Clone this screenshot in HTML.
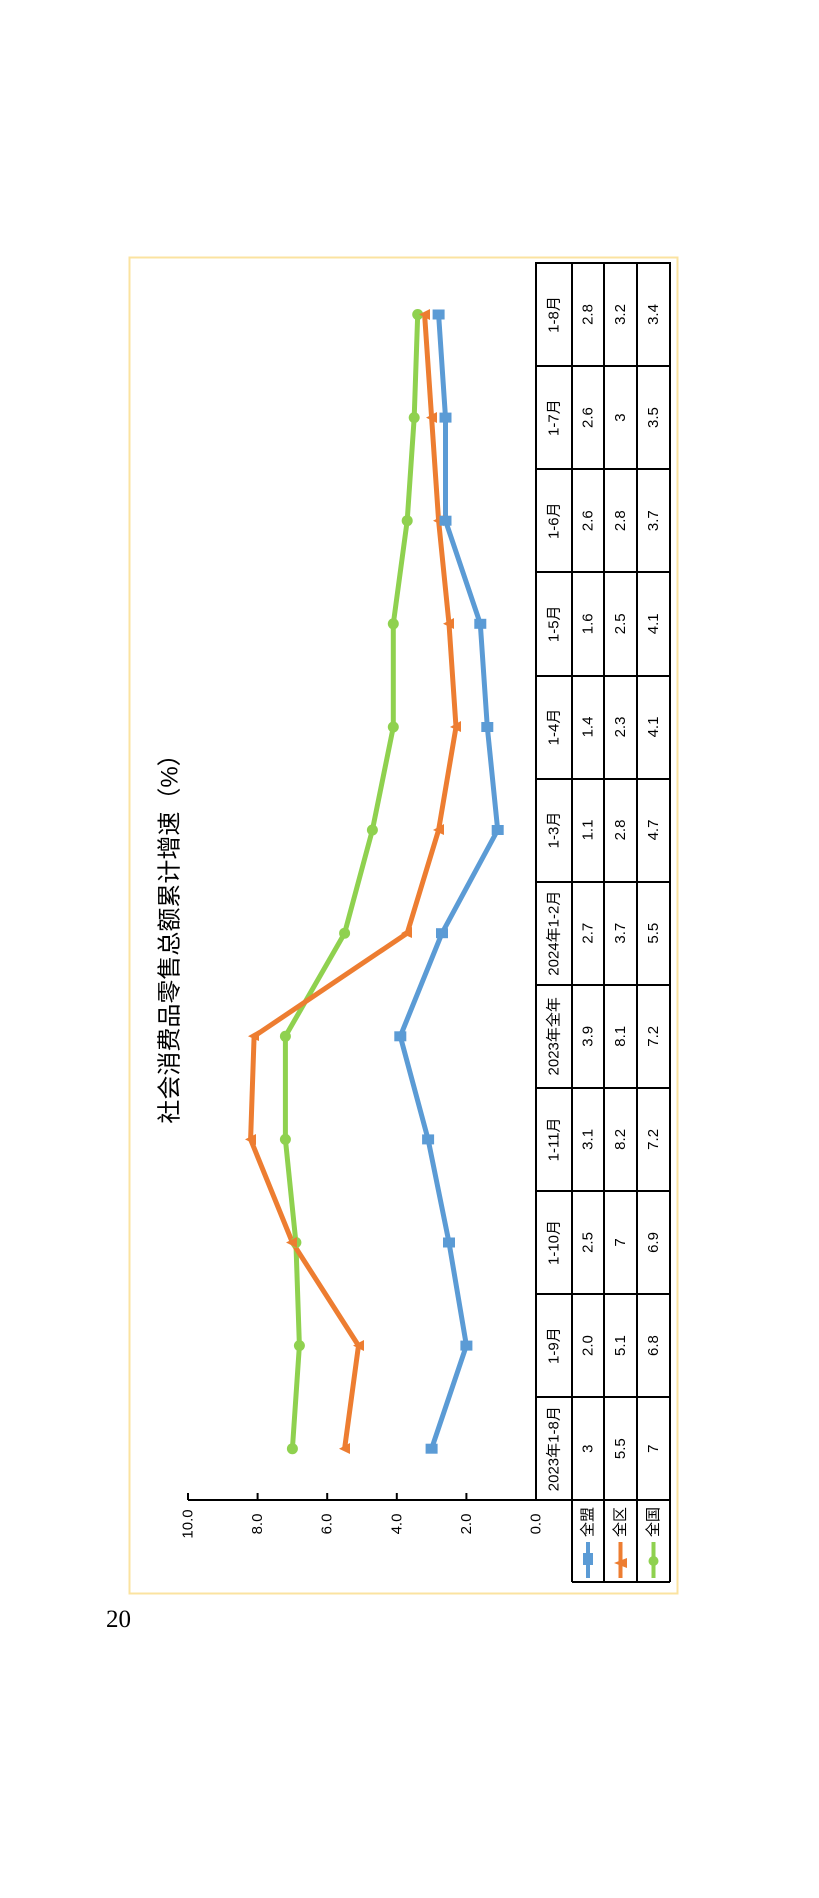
<!DOCTYPE html>
<html><head><meta charset="utf-8"><style>
html,body{margin:0;padding:0;background:#fff;}
svg{display:block;}
.t{font-family:"Liberation Sans Narrow","Liberation Sans","Noto Sans CJK SC",sans-serif;font-size:15px;fill:#000;}
.ti{font-family:"Liberation Sans","Noto Sans CJK SC",sans-serif;font-size:24px;fill:#000;}
</style></head><body>
<svg width="819" height="1898" xmlns="http://www.w3.org/2000/svg">
<rect x="129.5" y="257.5" width="548" height="1336" fill="#fff" stroke="#fbe3a0" stroke-width="2"/>
<text class="ti" transform="translate(170,933) rotate(-90)" text-anchor="middle" dominant-baseline="central">社会消费品零售总额累计增速（%）</text>
<!-- axis -->
<g stroke="#000" stroke-width="2">
<line x1="188" y1="1500" x2="536" y2="1500"/>
<line x1="188" y1="1493" x2="188" y2="1500"/><line x1="257.6" y1="1493" x2="257.6" y2="1500"/><line x1="327.2" y1="1493" x2="327.2" y2="1500"/><line x1="396.8" y1="1493" x2="396.8" y2="1500"/><line x1="466.4" y1="1493" x2="466.4" y2="1500"/>
</g>
<g class="t" text-anchor="middle">
<text transform="translate(188,1524) rotate(-90)" dominant-baseline="central" class="t">10.0</text>
<text transform="translate(257.6,1524) rotate(-90)" dominant-baseline="central" class="t">8.0</text>
<text transform="translate(327.2,1524) rotate(-90)" dominant-baseline="central" class="t">6.0</text>
<text transform="translate(396.8,1524) rotate(-90)" dominant-baseline="central" class="t">4.0</text>
<text transform="translate(466.4,1524) rotate(-90)" dominant-baseline="central" class="t">2.0</text>
<text transform="translate(536,1524) rotate(-90)" dominant-baseline="central" class="t">0.0</text>
</g>
<!-- table -->
<g stroke="#000" stroke-width="2" fill="none">
<rect x="536" y="263" width="134" height="1237"/>
<line x1="572" y1="263" x2="572" y2="1582"/><line x1="604" y1="263" x2="604" y2="1582"/><line x1="637" y1="263" x2="637" y2="1582"/><line x1="670" y1="1500" x2="670" y2="1582"/>
<line x1="572" y1="1582" x2="670" y2="1582"/>
<line x1="536" y1="366" x2="670" y2="366"/><line x1="536" y1="469" x2="670" y2="469"/><line x1="536" y1="572" x2="670" y2="572"/><line x1="536" y1="676" x2="670" y2="676"/><line x1="536" y1="779" x2="670" y2="779"/><line x1="536" y1="882" x2="670" y2="882"/><line x1="536" y1="985" x2="670" y2="985"/><line x1="536" y1="1088" x2="670" y2="1088"/><line x1="536" y1="1191" x2="670" y2="1191"/><line x1="536" y1="1294" x2="670" y2="1294"/><line x1="536" y1="1397" x2="670" y2="1397"/>
</g>
<g class="t" text-anchor="middle" dominant-baseline="central">
<text transform="translate(554,314.5) rotate(-90)">1-8月</text><text transform="translate(588,314.5) rotate(-90)">2.8</text><text transform="translate(620.5,314.5) rotate(-90)">3.2</text><text transform="translate(653.5,314.5) rotate(-90)">3.4</text>
<text transform="translate(554,417.6) rotate(-90)">1-7月</text><text transform="translate(588,417.6) rotate(-90)">2.6</text><text transform="translate(620.5,417.6) rotate(-90)">3</text><text transform="translate(653.5,417.6) rotate(-90)">3.5</text>
<text transform="translate(554,520.7) rotate(-90)">1-6月</text><text transform="translate(588,520.7) rotate(-90)">2.6</text><text transform="translate(620.5,520.7) rotate(-90)">2.8</text><text transform="translate(653.5,520.7) rotate(-90)">3.7</text>
<text transform="translate(554,623.8) rotate(-90)">1-5月</text><text transform="translate(588,623.8) rotate(-90)">1.6</text><text transform="translate(620.5,623.8) rotate(-90)">2.5</text><text transform="translate(653.5,623.8) rotate(-90)">4.1</text>
<text transform="translate(554,727) rotate(-90)">1-4月</text><text transform="translate(588,727) rotate(-90)">1.4</text><text transform="translate(620.5,727) rotate(-90)">2.3</text><text transform="translate(653.5,727) rotate(-90)">4.1</text>
<text transform="translate(554,830) rotate(-90)">1-3月</text><text transform="translate(588,830) rotate(-90)">1.1</text><text transform="translate(620.5,830) rotate(-90)">2.8</text><text transform="translate(653.5,830) rotate(-90)">4.7</text>
<text transform="translate(554,933.2) rotate(-90)">2024年1-2月</text><text transform="translate(588,933.2) rotate(-90)">2.7</text><text transform="translate(620.5,933.2) rotate(-90)">3.7</text><text transform="translate(653.5,933.2) rotate(-90)">5.5</text>
<text transform="translate(554,1036.3) rotate(-90)">2023年全年</text><text transform="translate(588,1036.3) rotate(-90)">3.9</text><text transform="translate(620.5,1036.3) rotate(-90)">8.1</text><text transform="translate(653.5,1036.3) rotate(-90)">7.2</text>
<text transform="translate(554,1139.4) rotate(-90)">1-11月</text><text transform="translate(588,1139.4) rotate(-90)">3.1</text><text transform="translate(620.5,1139.4) rotate(-90)">8.2</text><text transform="translate(653.5,1139.4) rotate(-90)">7.2</text>
<text transform="translate(554,1242.5) rotate(-90)">1-10月</text><text transform="translate(588,1242.5) rotate(-90)">2.5</text><text transform="translate(620.5,1242.5) rotate(-90)">7</text><text transform="translate(653.5,1242.5) rotate(-90)">6.9</text>
<text transform="translate(554,1345.6) rotate(-90)">1-9月</text><text transform="translate(588,1345.6) rotate(-90)">2.0</text><text transform="translate(620.5,1345.6) rotate(-90)">5.1</text><text transform="translate(653.5,1345.6) rotate(-90)">6.8</text>
<text transform="translate(554,1448.7) rotate(-90)">2023年1-8月</text><text transform="translate(588,1448.7) rotate(-90)">3</text><text transform="translate(620.5,1448.7) rotate(-90)">5.5</text><text transform="translate(653.5,1448.7) rotate(-90)">7</text>
<text transform="translate(588,1522) rotate(-90)">全盟</text><text transform="translate(620.5,1522) rotate(-90)">全区</text><text transform="translate(653.5,1522) rotate(-90)">全国</text>
</g>
<!-- legend markers -->
<line x1="588" y1="1542" x2="588" y2="1578" stroke="#5b9bd5" stroke-width="4"/><rect x="583" y="1553" width="10" height="12" fill="#5b9bd5"/>
<line x1="620.5" y1="1542" x2="620.5" y2="1578" stroke="#ed7d31" stroke-width="4"/><polygon points="614,1563 627,1558 627,1568" fill="#ed7d31"/>
<line x1="653.5" y1="1542" x2="653.5" y2="1578" stroke="#8fd14f" stroke-width="4"/><circle cx="653.5" cy="1561" r="5" fill="#8fd14f"/>
<!-- series -->
<polyline fill="none" stroke="#8fd14f" stroke-width="5" stroke-linejoin="round" points="417.7,314.5 414.2,417.6 407.2,520.7 393.3,623.8 393.3,727 372.4,830 344.6,933.2 285.4,1036.3 285.4,1139.4 295.9,1242.5 299.4,1345.6 292.4,1448.7"/>
<polyline fill="none" stroke="#ed7d31" stroke-width="5" stroke-linejoin="round" points="424.6,314.5 431.6,417.6 438.6,520.7 449,623.8 456,727 438.6,830 407.2,933.2 254.1,1036.3 250.6,1139.4 292.4,1242.5 358.5,1345.6 344.6,1448.7"/>
<polyline fill="none" stroke="#5b9bd5" stroke-width="5" stroke-linejoin="round" points="438.6,314.5 445.5,417.6 445.5,520.7 480.3,623.8 487.3,727 497.7,830 442,933.2 400.3,1036.3 428.1,1139.4 449,1242.5 466.4,1345.6 431.6,1448.7"/>
<g fill="#8fd14f">
<circle cx="417.7" cy="314.5" r="5.5"/><circle cx="414.2" cy="417.6" r="5.5"/><circle cx="407.2" cy="520.7" r="5.5"/><circle cx="393.3" cy="623.8" r="5.5"/><circle cx="393.3" cy="727" r="5.5"/><circle cx="372.4" cy="830" r="5.5"/><circle cx="344.6" cy="933.2" r="5.5"/><circle cx="285.4" cy="1036.3" r="5.5"/><circle cx="285.4" cy="1139.4" r="5.5"/><circle cx="295.9" cy="1242.5" r="5.5"/><circle cx="299.4" cy="1345.6" r="5.5"/><circle cx="292.4" cy="1448.7" r="5.5"/>
</g>
<g fill="#ed7d31">
<polygon points="419,314.5 430,309 430,320"/><polygon points="426,417.6 437,412 437,423"/><polygon points="433,520.7 444,515 444,526"/><polygon points="443,623.8 454,618 454,629"/><polygon points="450,727 461,721 461,732"/><polygon points="433,830 444,824 444,835"/><polygon points="401,933.2 412,927 412,938"/><polygon points="248,1036.3 259,1030 259,1041"/><polygon points="245,1139.4 256,1134 256,1145"/><polygon points="286,1242.5 297,1237 297,1248"/><polygon points="353,1345.6 364,1340 364,1351"/><polygon points="339,1448.7 350,1443 350,1454"/>
</g>
<g fill="#5b9bd5">
<rect x="432.6" y="309.5" width="12" height="10"/><rect x="439.5" y="412.6" width="12" height="10"/><rect x="439.5" y="515.7" width="12" height="10"/><rect x="474.3" y="618.8" width="12" height="10"/><rect x="481.3" y="722" width="12" height="10"/><rect x="491.7" y="825" width="12" height="10"/><rect x="436" y="928.2" width="12" height="10"/><rect x="394.3" y="1031.3" width="12" height="10"/><rect x="422.1" y="1134.4" width="12" height="10"/><rect x="443" y="1237.5" width="12" height="10"/><rect x="460.4" y="1340.6" width="12" height="10"/><rect x="425.6" y="1443.7" width="12" height="10"/>
</g>
<text x="106" y="1627" font-family="Liberation Serif, serif" font-size="25" fill="#000">20</text>
</svg>
</body></html>
